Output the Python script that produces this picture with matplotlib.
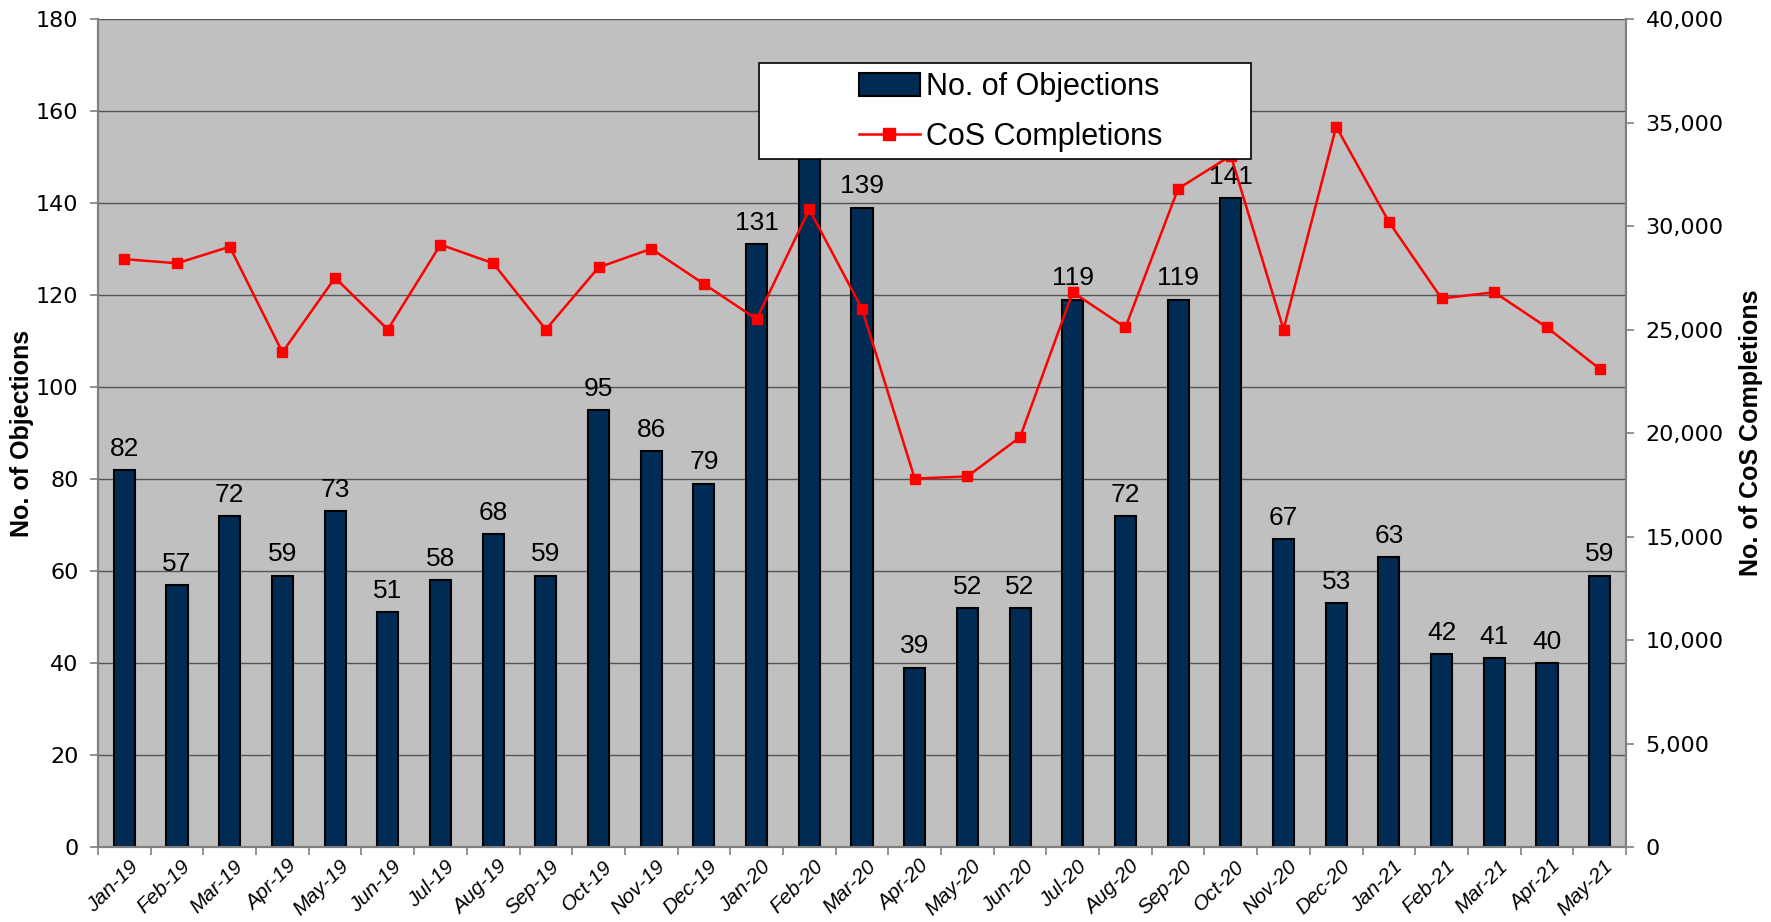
import numpy as np
import matplotlib
matplotlib.use('Agg')
from matplotlib import pyplot as plt
from matplotlib.patches import Rectangle, Patch
from matplotlib.lines import Line2D
from matplotlib.transforms import ScaledTranslation

months = ['Jan-19', 'Feb-19', 'Mar-19', 'Apr-19', 'May-19', 'Jun-19', 'Jul-19', 'Aug-19',
          'Sep-19', 'Oct-19', 'Nov-19', 'Dec-19', 'Jan-20', 'Feb-20', 'Mar-20', 'Apr-20',
          'May-20', 'Jun-20', 'Jul-20', 'Aug-20', 'Sep-20', 'Oct-20', 'Nov-20', 'Dec-20',
          'Jan-21', 'Feb-21', 'Mar-21', 'Apr-21', 'May-21']
objections = [82, 57, 72, 59, 73, 51, 58, 68, 59, 95, 86, 79, 131, 160, 139, 39,
              52, 52, 119, 72, 119, 141, 67, 53, 63, 42, 41, 40, 59]
completions = [28400, 28200, 29000, 23900, 27500, 25000, 29100, 28200, 25000, 28000,
               28900, 27200, 25500, 30800, 26000, 17800, 17900, 19800, 26800, 25100,
               31800, 33400, 25000, 34800, 30200, 26500, 26800, 25100, 23100]

BAR_COLOR = '#002B54'
BG = '#C0C0C0'
SPINE = '#808080'
ARIAL = ['Liberation Sans', 'DejaVu Sans']

fig = plt.figure(figsize=(17.71, 9.22), dpi=100)
ax = fig.add_axes([98 / 1771, 1 - 847 / 922, (1626 - 98) / 1771, (847 - 19) / 922])
ax.set_facecolor(BG)

x = np.arange(len(months))
ax.bar(x, objections, width=0.4, color=BAR_COLOR, edgecolor='black', linewidth=1.5, zorder=3)
for xi, v in zip(x, objections):
    ax.text(xi, v + 2, str(v), ha='center', va='bottom', fontsize=19, family=ARIAL, zorder=4)

ax.set_xlim(-0.5, len(months) - 0.5)
ax.set_ylim(0, 180)
ax.set_yticks(np.arange(0, 181, 20))
ax.yaxis.grid(True, color='#555555', linewidth=1.0, zorder=1)
ax.set_axisbelow(True)
ax.tick_params(axis='y', labelsize=16, length=6, color=SPINE, width=1.2, pad=8)
for lbl in ax.get_yticklabels():
    lbl.set_family('DejaVu Sans')

ax.set_xticks(x)
ax.set_xticklabels(months, rotation=45, ha='right', rotation_mode='anchor',
                   fontsize=15, style='italic', family=ARIAL)
ax.tick_params(axis='x', which='major', length=0, pad=7)
shift = ScaledTranslation(0.04, 0, fig.dpi_scale_trans)
for lbl in ax.get_xticklabels():
    lbl.set_transform(lbl.get_transform() + shift)
ax.set_xticks(np.arange(-0.5, len(months), 1), minor=True)
ax.tick_params(axis='x', which='minor', length=6, color=SPINE, width=1.2)

for s in ax.spines.values():
    s.set_color(SPINE)
    s.set_linewidth(1.5)
ax.spines['top'].set_visible(False)

ax.set_ylabel('No. of Objections', fontsize=18, fontweight='bold', family=ARIAL)
ax.yaxis.set_label_coords(-0.042, 0.5)

ax2 = ax.twinx()
ax2.plot(x, completions, color='#FF0000', linewidth=1.8, marker='s', markersize=7, zorder=5)
ax2.set_ylim(0, 40000)
ax2.set_yticks(np.arange(0, 40001, 5000))
ax2.set_yticklabels([f'{v:,}' for v in range(0, 40001, 5000)], family='DejaVu Sans')
ax2.tick_params(axis='y', labelsize=16, length=6, color=SPINE, width=1.2, pad=8)
for s in ax2.spines.values():
    s.set_color(SPINE)
    s.set_linewidth(1.5)
ax2.spines['top'].set_visible(False)
ax2.set_ylabel('No. of CoS Completions', fontsize=18, fontweight='bold', family=ARIAL)
ax2.yaxis.set_label_coords(1.074, 0.5)

# legend box
box = Rectangle((759 / 1771, 1 - 159 / 922), (1251 - 759) / 1771, (159 - 63) / 922,
                transform=fig.transFigure, facecolor='white', edgecolor='black',
                linewidth=1.2, zorder=10)
fig.patches.append(box)
handles = [Patch(facecolor=BAR_COLOR, edgecolor='black', linewidth=1.5),
           Line2D([0], [0], color='#FF0000', linewidth=1.8, marker='s', markersize=9)]
leg = fig.legend(handles, ['No. of Objections', 'CoS Completions'],
                 loc='center', bbox_to_anchor=((759 + 1251) / 2 / 1771 + 0.003, 1 - 112 / 922),
                 frameon=False, prop={'family': ARIAL, 'size': 22},
                 handlelength=2.0, handleheight=0.8, handletextpad=0.2, labelspacing=0.65)
leg.set_zorder(11)

fig.savefig('out.png', dpi=100)
